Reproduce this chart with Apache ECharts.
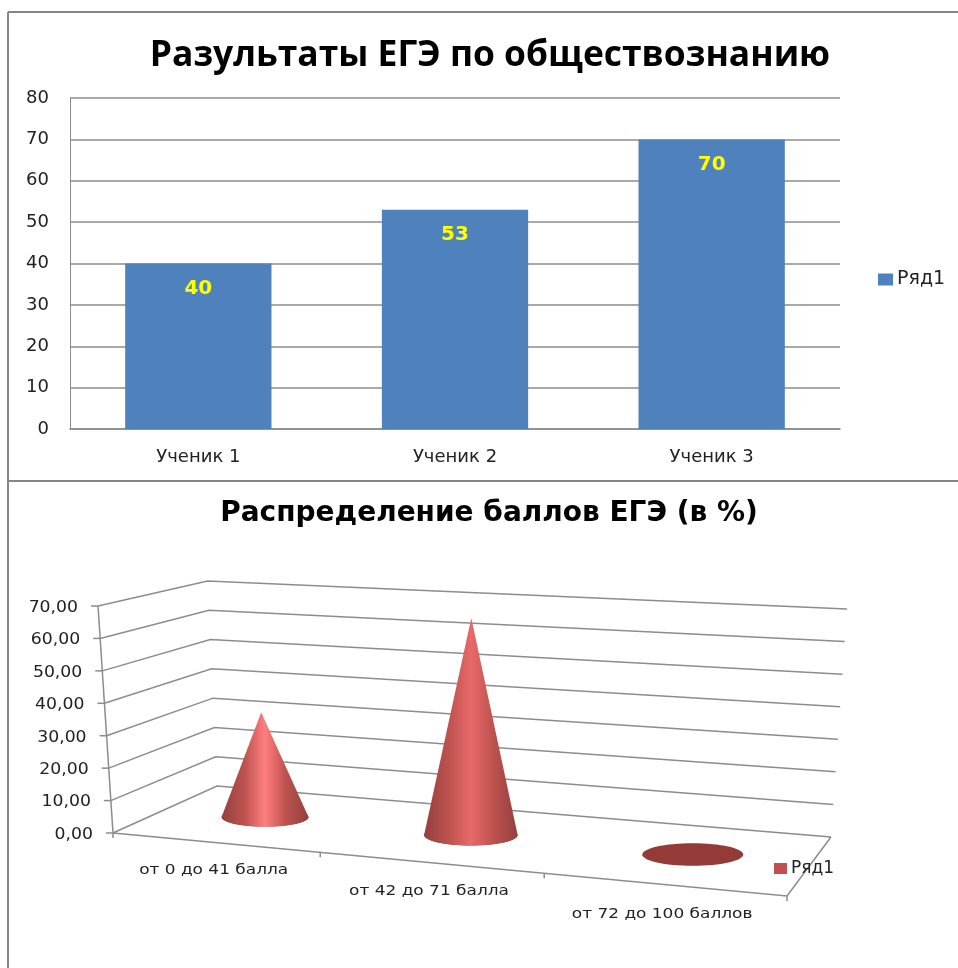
<!DOCTYPE html>
<html>
<head>
<meta charset="utf-8">
<title>Результаты ЕГЭ</title>
<script src="https://cdn.jsdelivr.net/npm/echarts@6/dist/echarts.min.js"></script>
<style>
  html, body { margin: 0; padding: 0; background: #fff; }
  #chart { width: 958px; height: 968px; }
</style>
</head>
<body>
<div id="chart"></div>
<script>
const studentNames = ['Ученик 1', 'Ученик 2', 'Ученик 3']
const studentScores = [40, 53, 70]
const scoreTicks = [0, 10, 20, 30, 40, 50, 60, 70, 80]

const bandNames = ['от 0 до 41 балла', 'от 42 до 71 балла', 'от 72 до 100 баллов']
const bandShares = [33.33, 66.67, 0]
const shareTicks = [0, 10, 20, 30, 40, 50, 60, 70]

const gray = '#8c8c8c'
const font = 'DejaVu Sans'

// The 3D box of the lower chart as it lies on the page:
// floor corners (front-left, front-right, back-right, back-left), height of the
// value axis at each corner, and the point where its verticals meet
const floorQuad = [[113, 833], [787, 896], [831, 837], [217, 786]]
const cornerHeights = [227, 251, 228, 205]
const vanish = [461, 6107]

// unit square -> quad, (u along the front edge, d into the depth)
function makeHomography(q) {
  const [[x0, y0], [x1, y1], [x2, y2], [x3, y3]] = q
  const dx1 = x1 - x2, dx2 = x3 - x2, sx = x0 - x1 + x2 - x3
  const dy1 = y1 - y2, dy2 = y3 - y2, sy = y0 - y1 + y2 - y3
  const den = dx1 * dy2 - dx2 * dy1
  const g = (sx * dy2 - dx2 * sy) / den
  const h = (dx1 * sy - sx * dy1) / den
  const a = x1 - x0 + g * x1, b = x3 - x0 + h * x3
  const d = y1 - y0 + g * y1, e = y3 - y0 + h * y3
  return (u, v) => {
    const w = g * u + h * v + 1
    return [(a * u + b * v + x0) / w, (d * u + e * v + y0) / w]
  }
}
const floorAt = makeHomography(floorQuad)

// u: 0..1 along the categories, d: 0..1 depth, t: 0..1 of the value axis
function project(u, d, t) {
  const a = floorAt(u, d)
  const [h0, h1, h2, h3] = cornerHeights
  const h = (h0 * (1 - u) + h1 * u) * (1 - d) + (h3 * (1 - u) + h2 * u) * d
  const lean = (vanish[0] - a[0]) / (vanish[1] - a[1])
  return [a[0] - lean * h * t, a[1] - h * t]
}

// position inside the hidden grid of the lower chart, read through its axes
function axisPos(params, api, cat, val) {
  const r = params.coordSys
  const p = api.coord([cat, val])
  return [(p[0] - r.x) / r.width, (r.y + r.height - p[1]) / r.height]
}

const lineStyle = { stroke: gray, lineWidth: 1.5, fill: null }

function renderWallLine(params, api) {
  const val = api.value(1)
  const t = axisPos(params, api, 0, val)[1]
  const front = project(0, 0, t)
  return {
    type: 'group',
    children: [
      {
        type: 'polyline',
        shape: { points: [front, project(0, 1, t), project(1, 1, t)] },
        style: lineStyle
      },
      {
        type: 'line',
        shape: { x1: front[0] - 7, y1: front[1], x2: front[0], y2: front[1] },
        style: lineStyle
      },
      {
        type: 'text',
        x: front[0] - 20,
        y: front[1] + 2,
        scaleX: 1.15,
        style: {
          text: val.toFixed(2).replace('.', ','),
          align: 'right', verticalAlign: 'middle',
          font: '15px "' + font + '"', fill: '#222'
        }
      }
    ]
  }
}

function renderFloor(params, api) {
  const children = [
    {
      type: 'polyline',
      shape: { points: [project(0, 0, 0), project(1, 0, 0), project(1, 1, 0)] },
      style: lineStyle
    },
    {
      type: 'line',
      shape: { x1: project(0, 0, 0)[0], y1: project(0, 0, 0)[1], x2: project(0, 0, 1)[0], y2: project(0, 0, 1)[1] },
      style: lineStyle
    }
  ]
  for (let i = 0; i <= bandNames.length; i++) {
    const p = project(i / bandNames.length, 0, 0)
    children.push({ type: 'line', shape: { x1: p[0], y1: p[1], x2: p[0], y2: p[1] + 5 }, style: lineStyle })
  }
  return { type: 'group', children }
}

function renderCone(params, api) {
  const i = api.value(0)
  const val = api.value(1)
  const pos = axisPos(params, api, i, val)
  const u = pos[0], t = pos[1]
  const depth = 0.5
  const c = project(u, depth, 0)
  const rx = (project(u + 0.073, depth, 0)[0] - project(u - 0.073, depth, 0)[0]) / 2
  const ry = (project(u, depth - 0.2, 0)[1] - project(u, depth + 0.2, 0)[1]) / 2
  const children = [{
    type: 'ellipse',
    shape: { cx: c[0], cy: c[1], rx, ry },
    style: { fill: '#943a37' }
  }]
  if (val > 0) {
    const points = [project(u, depth, t)]
    for (let k = 0; k <= 40; k++) {
      const a = Math.PI * k / 40
      points.push([c[0] - rx * Math.cos(a), c[1] + ry * Math.sin(a)])
    }
    const bright = i === 0 ? '#ff7f7f' : '#e8696a'
    children.push({
      type: 'polygon',
      shape: { points },
      style: {
        fill: new echarts.graphic.LinearGradient(0, 0, 1, 0, [
          { offset: 0, color: '#93403e' },
          { offset: 0.27, color: '#bf5350' },
          { offset: 0.5, color: bright },
          { offset: 0.73, color: '#bf5350' },
          { offset: 1, color: '#93403e' }
        ])
      }
    })
  }
  return { type: 'group', children }
}

function renderBandLabel(params, api) {
  const i = api.value(0)
  const u = axisPos(params, api, i, 0)[0]
  const p = project(u, 0, 0)
  return {
    type: 'text',
    x: p[0] - 1,
    y: p[1] + 28 + i,
    scaleX: 1.21,
    style: {
      text: bandNames[i],
      align: 'center', verticalAlign: 'middle',
      font: '14px "' + font + '"', fill: '#222'
    }
  }
}

const option = {
  animation: false,
  backgroundColor: '#fff',
  title: [
    {
      text: 'Разультаты ЕГЭ по обществознанию',
      left: 485, top: 33, textAlign: 'center',
      textStyle: { fontFamily: 'Open Sans', fontWeight: 'bold', fontSize: 35.4, color: '#000' }
    },
    {
      text: 'Распределение баллов ЕГЭ (в %)',
      left: 484, top: 495, textAlign: 'center',
      textStyle: { fontFamily: font, fontWeight: 'bold', fontSize: 28, color: '#000' }
    }
  ],
  legend: [
    {
      left: 873, top: 265, itemWidth: 15, itemHeight: 12, itemGap: 0,
      textStyle: { fontFamily: font, fontSize: 19, color: '#222', padding: [0, 0, 0, -1] },
      data: [{ name: 'Ряд1', icon: 'rect', itemStyle: { color: '#4f81bd' } }],
      selectedMode: false
    },
    {
      left: 769, top: 855, itemWidth: 13, itemHeight: 11, itemGap: 0,
      textStyle: { fontFamily: font, fontSize: 17, color: '#222', padding: [0, 0, 0, -1] },
      data: [{ name: 'Ряд1', icon: 'rect', itemStyle: { color: '#c0504d' } }],
      selectedMode: false
    }
  ],
  grid: [
    { left: 70, top: 98, width: 770, height: 331 },
    { left: 113, top: 581, width: 718, height: 315, show: false }
  ],
  xAxis: [
    {
      type: 'category', gridIndex: 0, data: studentNames,
      axisTick: { show: false },
      axisLine: { lineStyle: { color: gray, width: 1.5 } },
      axisLabel: { margin: 19, fontFamily: font, fontSize: 18, color: '#222' }
    },
    { type: 'category', gridIndex: 1, data: bandNames, show: false }
  ],
  yAxis: [
    {
      type: 'value', gridIndex: 0, min: 0, max: scoreTicks[scoreTicks.length - 1], interval: 10,
      axisLine: { show: true, lineStyle: { color: gray } },
      axisTick: { show: false },
      splitLine: { lineStyle: { color: gray, width: 1.5 } },
      axisLabel: { margin: 21, padding: [4, 0, 0, 0], fontFamily: font, fontSize: 18, color: '#222' }
    },
    { type: 'value', gridIndex: 1, min: 0, max: shareTicks[shareTicks.length - 1], interval: 10, show: false }
  ],
  series: [
    {
      name: 'Ряд1', type: 'bar', xAxisIndex: 0, yAxisIndex: 0,
      data: studentScores,
      barWidth: '57%',
      itemStyle: { color: '#4f81bd' },
      label: {
        show: true, position: 'insideTop', distance: 15,
        fontFamily: font, fontWeight: 'bold', fontSize: 20, color: '#ffff00'
      }
    },
    {
      type: 'custom', xAxisIndex: 1, yAxisIndex: 1, silent: true,
      renderItem: renderFloor,
      data: [[0, 0]]
    },
    {
      type: 'custom', xAxisIndex: 1, yAxisIndex: 1, silent: true,
      renderItem: renderWallLine,
      data: shareTicks.map(v => [0, v])
    },
    {
      name: 'Ряд1', type: 'custom', xAxisIndex: 1, yAxisIndex: 1,
      renderItem: renderCone,
      data: bandShares.map((v, i) => [i, v])
    },
    {
      type: 'custom', xAxisIndex: 1, yAxisIndex: 1, silent: true,
      renderItem: renderBandLabel,
      data: bandNames.map((n, i) => [i, 0])
    }
  ],
  graphic: [
    { type: 'line', shape: { x1: 8, y1: 12, x2: 958, y2: 12 }, style: { stroke: '#868686', lineWidth: 2 } },
    { type: 'line', shape: { x1: 8, y1: 12, x2: 8, y2: 968 }, style: { stroke: '#868686', lineWidth: 2 } },
    { type: 'line', shape: { x1: 8, y1: 481, x2: 958, y2: 481 }, style: { stroke: '#868686', lineWidth: 2 } }
  ]
}

const chart = echarts.init(document.getElementById('chart'))
chart.setOption(option)
window.addEventListener('resize', () => {
  chart.resize()
})
</script>
</body>
</html>
